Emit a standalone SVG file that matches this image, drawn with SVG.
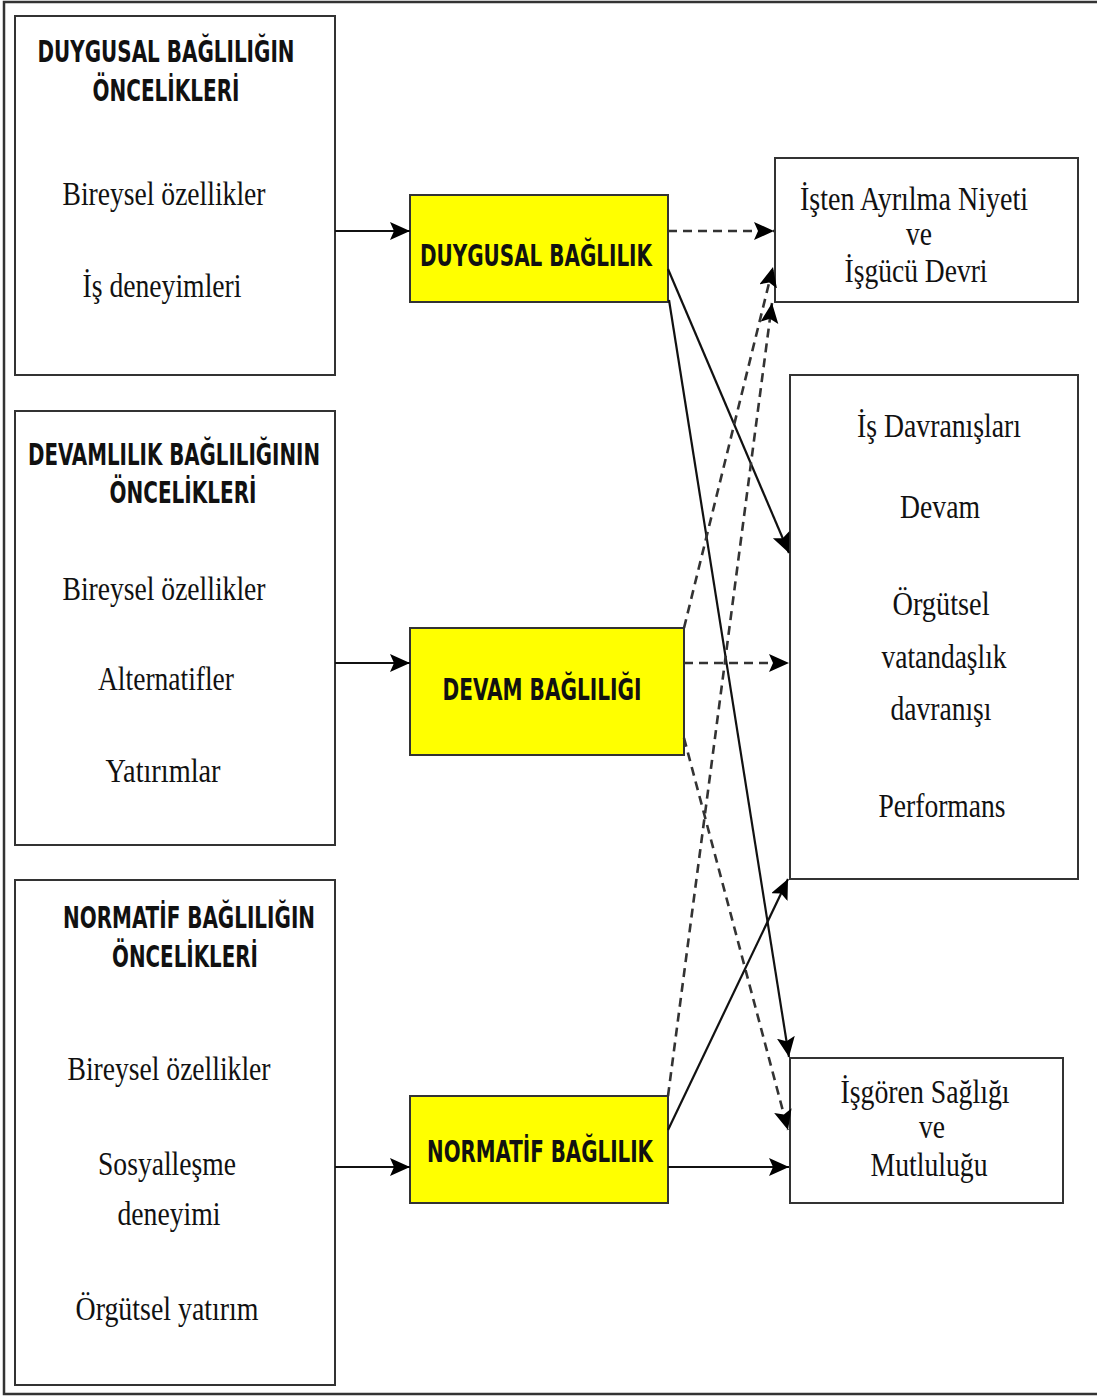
<svg xmlns="http://www.w3.org/2000/svg" width="1097" height="1396" viewBox="0 0 1097 1396">
  <style>
    .box { fill: #ffffff; stroke: #333333; stroke-width: 2; }
    .ybox { fill: #ffff00; stroke: #333333; stroke-width: 2; }
    .head { font-family: "Liberation Sans Narrow", "DejaVu Sans Condensed", "Liberation Sans", sans-serif; font-weight: bold; font-size: 31px; fill: #111111; text-anchor: middle; }
    .item { font-family: "Liberation Serif", "DejaVu Serif", serif; font-size: 34px; fill: #111111; text-anchor: middle; }
    .solid { fill: none; stroke: #111111; stroke-width: 2.2; }
    .dash { fill: none; stroke: #333333; stroke-width: 2.6; stroke-dasharray: 9 6; }
  </style>
  <defs>
    <marker id="arrow" markerUnits="userSpaceOnUse" markerWidth="22" markerHeight="20" refX="20" refY="9" orient="auto">
      <path d="M0,0 L20,9 L0,18 L4,9 Z" fill="#000000"/>
    </marker>
  </defs>

  <!-- outer frame -->
  <path d="M1097,2 L4,2 L4,1394 L1097,1394" fill="none" stroke="#333333" stroke-width="2.5"/>

  <!-- antecedent boxes -->
  <g id="duygusal-onc">
    <rect class="box" x="15" y="16" width="320" height="359"/>
    <text class="head" x="166" y="62" textLength="257" lengthAdjust="spacingAndGlyphs">DUYGUSAL BAĞLILIĞIN</text>
    <text class="head" x="166" y="101" textLength="147" lengthAdjust="spacingAndGlyphs">ÖNCELİKLERİ</text>
    <text class="item" x="164" y="205" textLength="203" lengthAdjust="spacingAndGlyphs">Bireysel özellikler</text>
    <text class="item" x="162" y="297" textLength="159" lengthAdjust="spacingAndGlyphs">İş deneyimleri</text>
  </g>

  <g id="devam-onc">
    <rect class="box" x="15" y="411" width="320" height="434"/>
    <text class="head" x="174" y="465" textLength="292" lengthAdjust="spacingAndGlyphs">DEVAMLILIK BAĞLILIĞININ</text>
    <text class="head" x="183" y="503" textLength="147" lengthAdjust="spacingAndGlyphs">ÖNCELİKLERİ</text>
    <text class="item" x="164" y="600" textLength="203" lengthAdjust="spacingAndGlyphs">Bireysel özellikler</text>
    <text class="item" x="166" y="690" textLength="136" lengthAdjust="spacingAndGlyphs">Alternatifler</text>
    <text class="item" x="163" y="782" textLength="115" lengthAdjust="spacingAndGlyphs">Yatırımlar</text>
  </g>

  <g id="normatif-onc">
    <rect class="box" x="15" y="880" width="320" height="505"/>
    <text class="head" x="189" y="928" textLength="252" lengthAdjust="spacingAndGlyphs">NORMATİF BAĞLILIĞIN</text>
    <text class="head" x="185" y="967" textLength="146" lengthAdjust="spacingAndGlyphs">ÖNCELİKLERİ</text>
    <text class="item" x="169" y="1080" textLength="203" lengthAdjust="spacingAndGlyphs">Bireysel özellikler</text>
    <text class="item" x="167" y="1175" textLength="138" lengthAdjust="spacingAndGlyphs">Sosyalleşme</text>
    <text class="item" x="169" y="1225" textLength="103" lengthAdjust="spacingAndGlyphs">deneyimi</text>
    <text class="item" x="167" y="1320" textLength="183" lengthAdjust="spacingAndGlyphs">Örgütsel yatırım</text>
  </g>

  <!-- commitment types -->
  <g id="duygusal">
    <rect class="ybox" x="410" y="195" width="258" height="107"/>
    <text class="head" x="536" y="266" textLength="232" lengthAdjust="spacingAndGlyphs">DUYGUSAL BAĞLILIK</text>
  </g>
  <g id="devam">
    <rect class="ybox" x="410" y="628" width="274" height="127"/>
    <text class="head" x="542" y="700" textLength="199" lengthAdjust="spacingAndGlyphs">DEVAM BAĞLILIĞI</text>
  </g>
  <g id="normatif">
    <rect class="ybox" x="410" y="1096" width="258" height="107"/>
    <text class="head" x="540" y="1162" textLength="226" lengthAdjust="spacingAndGlyphs">NORMATİF BAĞLILIK</text>
  </g>

  <!-- outcomes -->
  <g id="isten-ayrilma">
    <rect class="box" x="775" y="158" width="303" height="144"/>
    <text class="item" x="914" y="210" textLength="228" lengthAdjust="spacingAndGlyphs">İşten Ayrılma Niyeti</text>
    <text class="item" x="919" y="245" textLength="26" lengthAdjust="spacingAndGlyphs">ve</text>
    <text class="item" x="916" y="282" textLength="143" lengthAdjust="spacingAndGlyphs">İşgücü Devri</text>
  </g>
  <g id="is-davranislari">
    <rect class="box" x="790" y="375" width="288" height="504"/>
    <text class="item" x="939" y="437" textLength="164" lengthAdjust="spacingAndGlyphs">İş Davranışları</text>
    <text class="item" x="940" y="518" textLength="80" lengthAdjust="spacingAndGlyphs">Devam</text>
    <text class="item" x="941" y="615" textLength="97" lengthAdjust="spacingAndGlyphs">Örgütsel</text>
    <text class="item" x="944" y="668" textLength="125" lengthAdjust="spacingAndGlyphs">vatandaşlık</text>
    <text class="item" x="941" y="720" textLength="101" lengthAdjust="spacingAndGlyphs">davranışı</text>
    <text class="item" x="942" y="817" textLength="127" lengthAdjust="spacingAndGlyphs">Performans</text>
  </g>
  <g id="isgoren-sagligi">
    <rect class="box" x="790" y="1058" width="273" height="145"/>
    <text class="item" x="925" y="1103" textLength="169" lengthAdjust="spacingAndGlyphs">İşgören Sağlığı</text>
    <text class="item" x="932" y="1138" textLength="26" lengthAdjust="spacingAndGlyphs">ve</text>
    <text class="item" x="929" y="1176" textLength="117" lengthAdjust="spacingAndGlyphs">Mutluluğu</text>
  </g>

  <!-- connectors -->
  <g id="connectors">
    <!-- antecedents to commitment -->
    <line class="solid" x1="335" y1="231" x2="410" y2="231" marker-end="url(#arrow)"/>
    <line class="solid" x1="335" y1="663" x2="410" y2="663" marker-end="url(#arrow)"/>
    <line class="solid" x1="335" y1="1167" x2="410" y2="1167" marker-end="url(#arrow)"/>

    <!-- affective commitment -->
    <line class="dash" x1="668" y1="231" x2="774" y2="231" marker-end="url(#arrow)"/>
    <line class="solid" x1="668" y1="269" x2="789" y2="553" marker-end="url(#arrow)"/>
    <line class="solid" x1="669" y1="300" x2="789" y2="1057" marker-end="url(#arrow)"/>

    <!-- continuance commitment -->
    <line class="dash" x1="684" y1="628" x2="773" y2="267" marker-end="url(#arrow)"/>
    <line class="dash" x1="684" y1="663" x2="789" y2="663" marker-end="url(#arrow)"/>
    <line class="dash" x1="684" y1="738" x2="788" y2="1130" marker-end="url(#arrow)"/>

    <!-- normative commitment -->
    <line class="dash" x1="668" y1="1096" x2="772" y2="303" marker-end="url(#arrow)"/>
    <line class="solid" x1="668" y1="1130" x2="788" y2="879" marker-end="url(#arrow)"/>
    <line class="solid" x1="668" y1="1167" x2="789" y2="1167" marker-end="url(#arrow)"/>
  </g>
</svg>
